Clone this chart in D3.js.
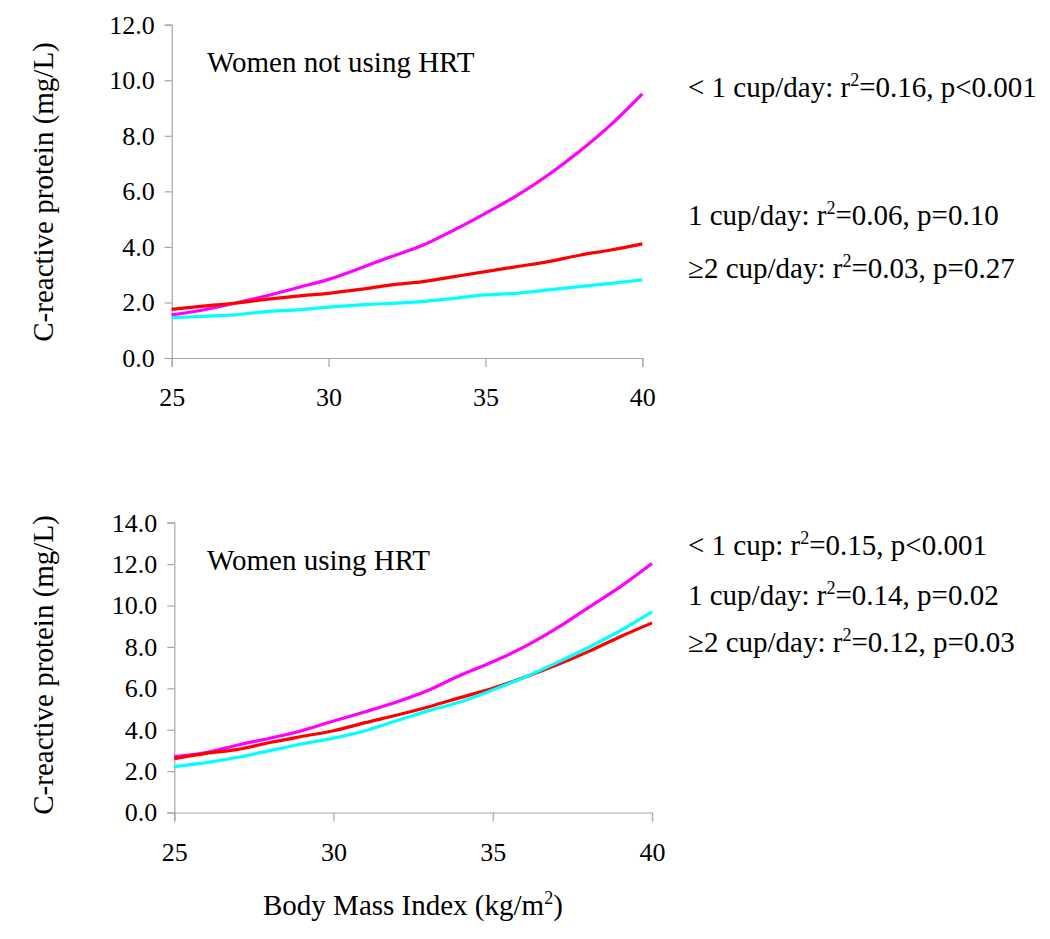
<!DOCTYPE html>
<html><head><meta charset="utf-8">
<script src="https://cdn.jsdelivr.net/npm/d3@7"></script>
<style>
body{margin:0;background:#fff;}
text{font-family:"Liberation Serif","Times New Roman",serif;fill:#000;}
</style></head>
<body><svg id="c" width="1050" height="939"></svg>
<script>
const bmi = [25,26,27,28,29,30,31,32,33,34,35,36,37,38,39,40];
const xTicks = [25,30,35,40];
const yTicksTop = [0,2,4,6,8,10,12];
const yTicksBot = [0,2,4,6,8,10,12,14];
// Women not using HRT
const topLess1 = [1.55,1.73,1.97,2.23,2.53,2.83,3.23,3.65,4.06,4.61,5.21,5.85,6.59,7.44,8.40,9.51];
const topOne   = [1.75,1.87,1.97,2.11,2.23,2.33,2.47,2.63,2.75,2.93,3.11,3.29,3.47,3.70,3.89,4.11];
const topTwo   = [1.45,1.50,1.55,1.67,1.73,1.83,1.91,1.97,2.03,2.15,2.27,2.33,2.45,2.57,2.69,2.81];
// Women using HRT
const botLess1 = [2.70,2.89,3.26,3.59,3.95,4.42,4.87,5.35,5.92,6.64,7.28,8.01,8.89,9.90,10.90,12.03];
const botOne   = [2.60,2.86,3.05,3.38,3.67,3.95,4.34,4.71,5.11,5.56,6.00,6.53,7.12,7.77,8.49,9.16];
const botTwo   = [2.22,2.41,2.67,2.99,3.31,3.59,3.95,4.44,4.92,5.35,5.92,6.53,7.23,7.97,8.78,9.69];
const seriesColors = ["#FF00FF","#FF0000","#00FFFF"];
const yTitle = "C-reactive protein (mg/L)";
const topTitle = "Women not using HRT";
const botTitle = "Women using HRT";
const topNotes = [["< 1 cup/day: r","=0.16, p<0.001"],["1 cup/day: r","=0.06, p=0.10"],["≥2 cup/day: r","=0.03, p=0.27"]];
const botNotes = [["< 1 cup: r","=0.15, p<0.001"],["1 cup/day: r","=0.14, p=0.02"],["≥2 cup/day: r","=0.12, p=0.03"]];

const svg = d3.select("#c");
const FONT = "Liberation Serif";

function sup(t, base, supTxt, rest){
  t.append("tspan").text(base);
  t.append("tspan").style("font-size","18px").attr("dy",-11).text(supTxt);
  t.append("tspan").attr("dy",11).text(rest);
}

function panel(cfg){
  const x = d3.scaleLinear().domain([25,40]).range([cfg.x0,cfg.x1]);
  const y = d3.scaleLinear().domain([0,cfg.ymax]).range([cfg.y0,cfg.y1]);
  const g = svg.append("g");
  const ya = g.append("g").attr("transform",`translate(${cfg.x0},0)`)
    .call(d3.axisLeft(y).tickValues(cfg.yticks).tickFormat(d3.format(".1f")).tickSize(7).tickPadding(10));
  const xa = g.append("g").attr("transform",`translate(0,${cfg.y0})`)
    .call(d3.axisBottom(x).tickValues(xTicks).tickSize(9).tickPadding(21));
  [ya,xa].forEach(a=>{
    a.select(".domain").attr("stroke","#a6a6a6").attr("stroke-width",1.2);
    a.selectAll(".tick line").attr("stroke","#a6a6a6").attr("stroke-width",1.2);
    a.selectAll("text").style("font-family",FONT).style("font-size","26px").style("fill","#000");
  });
  const line = d3.line().x((d,i)=>x(bmi[i])).y(d=>y(d)).curve(d3.curveMonotoneX);
  cfg.series.forEach((s,i)=>{
    g.append("path").datum(s).attr("d",line).attr("fill","none")
      .attr("stroke",seriesColors[i]).attr("stroke-width",3.2).attr("stroke-linejoin","round");
  });
  g.append("text").attr("x",207).attr("y",cfg.titleY).style("font-size","29px").text(cfg.title);
  g.append("text").attr("transform",`translate(53,${cfg.ytY}) rotate(-90)`)
    .attr("text-anchor","middle").style("font-size","29px").text(yTitle);
  cfg.notes.forEach((n,i)=>{
    const t = g.append("text").attr("x",688).attr("y",cfg.noteY[i]).style("font-size","29px");
    sup(t, n[0], "2", n[1]);
  });
}

panel({x0:171.7,x1:642.3,y0:358,y1:24.7,ymax:12,yticks:yTicksTop,
  series:[topLess1,topOne,topTwo],title:topTitle,titleY:72,ytY:192,
  notes:topNotes,noteY:[97,225,278]});
panel({x0:174.3,x1:652,y0:812.5,y1:522.7,ymax:14,yticks:yTicksBot,
  series:[botLess1,botOne,botTwo],title:botTitle,titleY:570,ytY:665,
  notes:botNotes,noteY:[555,605,652]});

const xl = svg.append("text").attr("x",263).attr("y",915).style("font-size","29px");
sup(xl, "Body Mass Index (kg/m", "2", ")");
</script></body></html>
